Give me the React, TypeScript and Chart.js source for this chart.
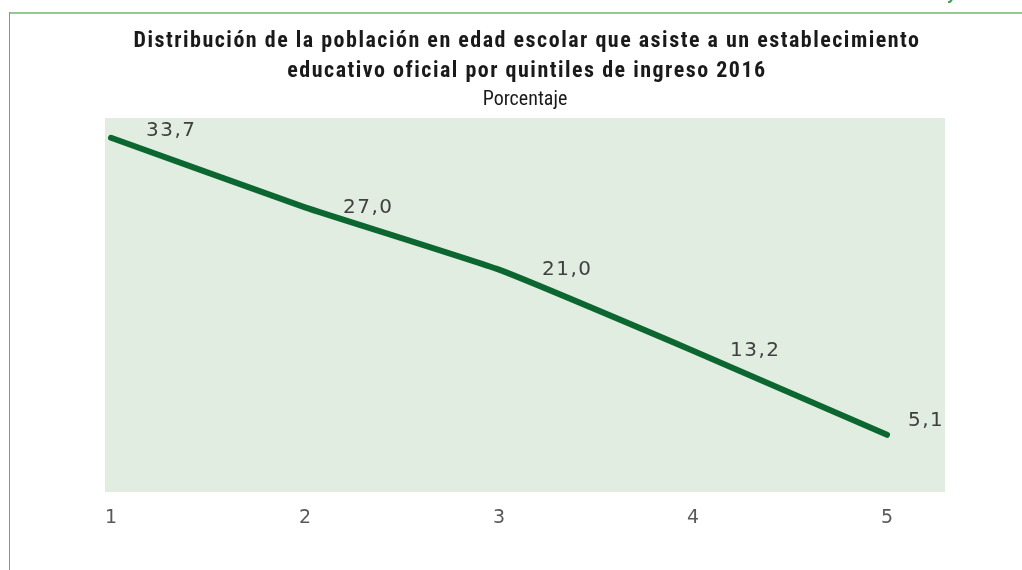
import React, { useEffect, useRef } from "react";
import { Chart, registerables } from "chart.js";

Chart.register(...registerables);

const quintiles = [1, 2, 3, 4, 5];
const percentages = [33.7, 27.0, 21.0, 13.2, 5.1];
const tickLabels = ["1", "2", "3", "4", "5"];
const titleLines = [
  "Distribución de la población en edad escolar que asiste a un establecimiento",
  "educativo oficial por quintiles de ingreso 2016",
];
const subtitleText = "Porcentaje";

const labelOffsets: [number, number][] = [
  [35, -7],
  [38, 0],
  [43, 0],
  [37, 0],
  [21, -14],
];

const fmt = (v: number) => v.toFixed(1).replace(".", ",");

const bgPlugin = {
  id: "plotBg",
  beforeDraw(chart: any) {
    const { ctx, chartArea } = chart;
    ctx.save();
    ctx.fillStyle = "#e2ede2";
    ctx.fillRect(chartArea.left, chartArea.top, chartArea.right - chartArea.left, chartArea.bottom - chartArea.top);
    ctx.restore();
  },
};

const labelPlugin = {
  id: "valueLabels",
  afterDatasetsDraw(chart: any) {
    const { ctx } = chart;
    const meta = chart.getDatasetMeta(0);
    ctx.save();
    ctx.font = "20px 'DejaVu Sans'";
    (ctx as any).letterSpacing = "1.5px";
    ctx.fillStyle = "#404040";
    ctx.textAlign = "left";
    ctx.textBaseline = "middle";
    meta.data.forEach((pt: any, i: number) => {
      const [dx, dy] = labelOffsets[i];
      ctx.fillText(fmt(percentages[i]), pt.x + dx, pt.y + dy);
    });
    ctx.restore();
  },
};

const condensed = "'Roboto Condensed', 'Liberation Sans Narrow', Roboto, sans-serif";

export default function App() {
  const ref = useRef<HTMLCanvasElement>(null);
  useEffect(() => {
    document.body.style.margin = "0";
    const chart = new Chart(ref.current!, {
      type: "line",
      data: {
        datasets: [
          {
            data: quintiles.map((q, i) => ({ x: q, y: percentages[i] })),
            borderColor: "#0b672f",
            borderWidth: 6,
            borderCapStyle: "round",
            borderJoinStyle: "round",
            pointRadius: 0,
            tension: 0.12,
            fill: false,
          },
        ],
      },
      options: {
        animation: false,
        responsive: false,
        layout: { padding: { left: 105, right: 77, top: 118, bottom: 0 } },
        plugins: {
          legend: { display: false },
          tooltip: { enabled: false },
          title: { display: false },
        },
        scales: {
          x: {
            type: "linear",
            min: 0.969,
            max: 5.299,
            grid: { display: false, drawTicks: false },
            border: { display: false },
            afterBuildTicks: (scale: any) => {
              scale.ticks = quintiles.map((v) => ({ value: v }));
            },
            afterFit: (scale: any) => {
              scale.height = 78;
            },
            ticks: {
              padding: 15,
              color: "#595959",
              font: { family: "'DejaVu Sans'", size: 19 },
              callback: (v: any) => tickLabels[quintiles.indexOf(Number(v))] ?? "",
              maxRotation: 0,
            },
          },
          y: {
            display: false,
            min: -0.4,
            max: 35.6,
          },
        },
      },
      plugins: [bgPlugin, labelPlugin],
    } as any);
    return () => chart.destroy();
  }, []);

  return (
    <div style={{ position: "relative", width: 1022, height: 570, overflow: "hidden", background: "#fff" }}>
      <div style={{ position: "absolute", left: 9, top: 12, right: 0, height: 2, background: "#93c993" }} />
      <div style={{ position: "absolute", left: 9, top: 12, bottom: 0, width: 1, background: "#5cb35c" }} />
      <div style={{ position: "absolute", left: 948, top: 0, width: 14, height: 4, overflow: "hidden" }}>
        <span style={{ position: "absolute", top: -14, left: 0, color: "#3a9a3a", font: "italic bold 16px 'Liberation Sans'" }}>y</span>
      </div>
      <canvas ref={ref} width={1022} height={570} style={{ position: "absolute", left: 0, top: 0 }} />
      <div
        style={{
          position: "absolute",
          left: 16,
          top: 25,
          width: 1022,
          textAlign: "center",
          fontFamily: condensed,
          fontWeight: "bold",
          fontSize: 22,
          lineHeight: "30px",
          letterSpacing: "1.5px",
          color: "#1a1a1a",
          whiteSpace: "nowrap",
        }}
      >
        {titleLines.map((l) => (
          <div key={l}>{l}</div>
        ))}
      </div>
      <div
        style={{
          position: "absolute",
          left: 14,
          top: 86,
          width: 1022,
          textAlign: "center",
          fontFamily: condensed,
          fontSize: 20,
          lineHeight: "24px",
          color: "#1a1a1a",
        }}
      >
        {subtitleText}
      </div>
    </div>
  );
}
